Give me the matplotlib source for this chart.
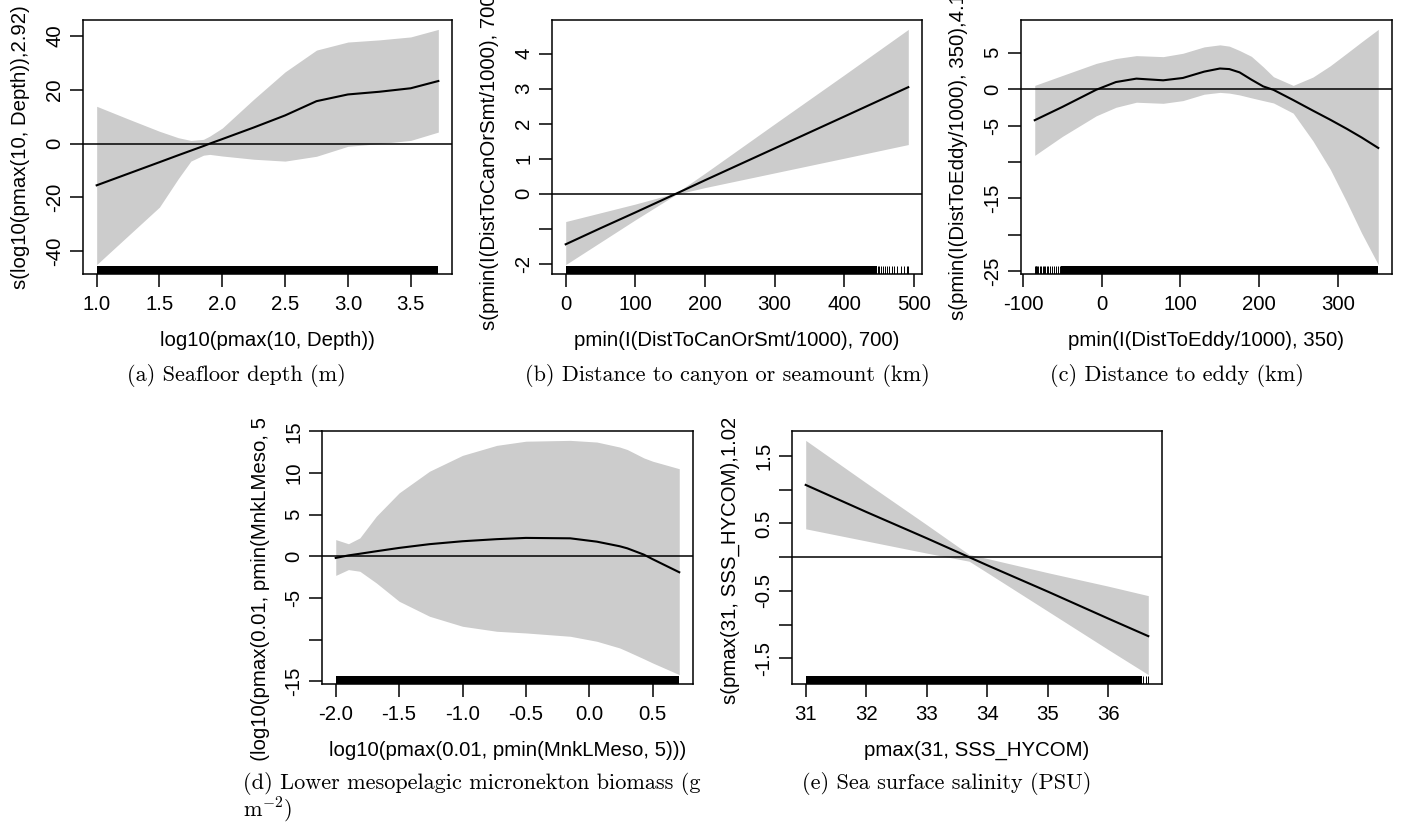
import matplotlib.pyplot as plt
from matplotlib.transforms import Bbox, TransformedBbox

W, H = 1402, 823

# (a) Profundidade do fundo
depth_x = [1.0, 1.25, 1.5, 1.65, 1.75, 1.85, 1.9, 2.0, 2.25, 2.5, 2.75, 3.0, 3.25, 3.5, 3.72]
depth_fit = [-15.5, -11.2, -6.9, -4.3, -2.6, -0.9, 0.0, 1.7, 6.0, 10.5, 15.8, 18.3, 19.3, 20.6, 23.3]
depth_upper = [13.9, 9.2, 4.6, 2.2, 1.2, 1.6, 2.8, 5.8, 16.5, 26.7, 34.8, 37.8, 38.6, 39.7, 42.5]
depth_lower = [-45.0, -34.3, -23.6, -13.0, -6.5, -4.3, -4.0, -4.6, -5.8, -6.5, -4.7, -1.0, 0.0, 1.2, 4.3]
depth_rug_dense = (1.0, 3.72)
depth_rug_ticks = []

# (b) Distancia a canion ou monte submarino
canyon_x = [0, 50, 100, 159, 200, 300, 400, 492]
canyon_fit = [-1.45, -0.99, -0.54, 0.0, 0.38, 1.29, 2.20, 3.04]
canyon_upper = [-0.80, -0.55, -0.30, 0.02, 0.58, 1.99, 3.39, 4.69]
canyon_lower = [-2.03, -1.39, -0.75, -0.02, 0.17, 0.59, 1.01, 1.40]
canyon_rug_dense = (0, 447)
canyon_rug_ticks = [448.4, 450.5, 453.4, 456.3, 458.4, 461.3, 464.9, 468.5,
                    472.1, 476.4, 481.5, 486.5, 490.1, 492.0]

# (c) Distancia ao vortice
eddy_x = [-85, -50, -7, 18, 44, 78, 103, 130, 150, 162, 175, 190, 205, 218, 243, 268, 290, 311, 330, 351]
eddy_fit = [-4.27, -2.45, -0.09, 0.97, 1.44, 1.21, 1.53, 2.4, 2.83, 2.75, 2.3, 1.3, 0.37, -0.1,
            -1.5, -2.95, -4.2, -5.45, -6.65, -8.08]
eddy_upper = [0.51, 1.87, 3.53, 4.2, 4.6, 4.46, 4.92, 5.8, 6.08, 5.9, 5.3, 4.5, 3.06, 1.7,
              0.51, 1.65, 3.2, 4.92, 6.5, 8.2]
eddy_lower = [-9.1, -6.5, -3.67, -2.5, -1.8, -1.95, -1.58, -0.7, -0.45, -0.55, -0.8, -1.2, -1.58, -1.9,
              -3.3, -7.1, -11.0, -15.5, -19.8, -24.1]
eddy_rug_dense = (-51.2, 350.8)
eddy_rug_ticks = [-85.1, -84.0, -83.0, -82.0, -80.9, -78.8, -76.7, -75.0, -73.3, -71.6,
                  -69.5, -67.8, -65.7, -63.2, -60.6, -57.6, -55.1, -52.5]

# (d) Biomassa de micronecton mesopelagico inferior
meso_x = [-2.0, -1.9, -1.81, -1.68, -1.5, -1.26, -1.0, -0.73, -0.5, -0.15, 0.06, 0.24, 0.3, 0.43, 0.5, 0.71]
meso_fit = [-0.2, 0.1, 0.3, 0.6, 1.0, 1.45, 1.8, 2.05, 2.2, 2.15, 1.75, 1.2, 0.95, 0.2, -0.35, -1.92]
meso_upper = [2.0, 1.5, 2.2, 4.8, 7.6, 10.2, 12.1, 13.3, 13.8, 13.9, 13.7, 13.1, 12.8, 11.8, 11.4, 10.5]
meso_lower = [-2.3, -1.6, -1.8, -3.2, -5.4, -7.2, -8.4, -9.0, -9.2, -9.6, -10.2, -11.0, -11.4,
              -12.3, -12.8, -14.2]
meso_rug_dense = (-2.0, 0.71)
meso_rug_ticks = []

# (e) Salinidade da superficie
sss_x = [31.0, 32.0, 33.0, 33.7, 34.0, 35.0, 36.0, 36.66]
sss_fit = [1.07, 0.67, 0.28, 0.0, -0.12, -0.51, -0.91, -1.17]
sss_upper = [1.73, 1.10, 0.48, 0.04, -0.02, -0.23, -0.43, -0.57]
sss_lower = [0.42, 0.24, 0.06, -0.06, -0.23, -0.80, -1.37, -1.74]
sss_rug_dense = (31.0, 36.55)
sss_rug_ticks = [36.58, 36.62, 36.66]

plt.rcParams['font.family'] = 'Liberation Sans'
plt.rcParams['mathtext.fontset'] = 'cm'

FS = 14.7  # tamanho das fontes dos eixos


def r_range(lo, hi):
    """Limites no estilo do R (4% de folga)"""
    r = hi - lo
    return lo - 0.04 * r, hi + 0.04 * r


def add_panel(fig, box, x, fit, lower, upper, rug_dense, rug_ticks,
              xticks, xticklabels, yticks, yticklabels, xlabel, ylabel, clip=None):
    """Desenha um painel do plot.gam"""
    x0, y0, x1, y1 = box
    ax = fig.add_axes([x0 / W, 1 - y1 / H, (x1 - x0) / W, (y1 - y0) / H])

    ax.fill_between(x, lower, upper, color='#cccccc', lw=0)
    ax.axhline(0, color='black', lw=1.1)
    ax.plot(x, fit, color='black', lw=1.5)

    # rug
    trans = ax.get_xaxis_transform()
    ax.axvspan(rug_dense[0], rug_dense[1], ymin=0, ymax=0.031, color='black', lw=0)
    if rug_ticks:
        ax.vlines(rug_ticks, 0, 0.031, transform=trans, color='black', lw=0.7)

    ax.set_xlim(*r_range(min(x), max(x)))
    ax.set_ylim(*r_range(min(lower), max(upper)))

    ax.set_xticks(xticks, xticklabels)
    ax.set_yticks(yticks, yticklabels, rotation=90, va='center')
    ax.tick_params(length=9.4, width=1.1, labelsize=FS, color='black')
    ax.tick_params(axis='x', pad=6.0)
    ax.tick_params(axis='y', pad=4.0)
    for s in ax.spines.values():
        s.set_linewidth(1.1)

    # rotulos dos eixos
    cx = (x0 + x1) / 2
    cy = (y0 + y1) / 2
    fig.text(cx / W, 1 - (y1 + 66) / H, xlabel, ha='center', va='center', fontsize=FS)
    t = fig.text((x0 - 62) / W, 1 - cy / H, ylabel, rotation=90,
                 ha='center', va='center', fontsize=FS)
    if clip is not None:
        top, bottom = clip
        t.set_clip_box(TransformedBbox(Bbox([[0, 1 - bottom / H], [1, 1 - top / H]]),
                                       fig.transFigure))
        t.set_clip_on(True)
    return ax


fig = plt.figure(figsize=(W / 100, H / 100), dpi=100)

add_panel(fig, (83, 20, 452, 274), depth_x, depth_fit, depth_lower, depth_upper,
          depth_rug_dense, depth_rug_ticks,
          [1.0, 1.5, 2.0, 2.5, 3.0, 3.5], ['1.0', '1.5', '2.0', '2.5', '3.0', '3.5'],
          [-40, -20, 0, 20, 40], ['-40', '-20', '0', '20', '40'],
          'log10(pmax(10, Depth))', 's(log10(pmax(10, Depth)),2.92)')

add_panel(fig, (552, 20, 922, 274), canyon_x, canyon_fit, canyon_lower, canyon_upper,
          canyon_rug_dense, canyon_rug_ticks,
          [0, 100, 200, 300, 400, 500], ['0', '100', '200', '300', '400', '500'],
          [-2, -1, 0, 1, 2, 3, 4], ['-2', '', '0', '1', '2', '3', '4'],
          'pmin(I(DistToCanOrSmt/1000), 700)', 's(pmin(I(DistToCanOrSmt/1000), 700),1)')

add_panel(fig, (1021, 20, 1392, 274), eddy_x, eddy_fit, eddy_lower, eddy_upper,
          eddy_rug_dense, eddy_rug_ticks,
          [-100, 0, 100, 200, 300], ['-100', '0', '100', '200', '300'],
          [-25, -20, -15, -10, -5, 0, 5], ['-25', '', '-15', '', '-5', '0', '5'],
          'pmin(I(DistToEddy/1000), 350)', 's(pmin(I(DistToEddy/1000), 350),4.14)')

add_panel(fig, (322, 431, 693, 684), meso_x, meso_fit, meso_lower, meso_upper,
          meso_rug_dense, meso_rug_ticks,
          [-2.0, -1.5, -1.0, -0.5, 0.0, 0.5], ['-2.0', '-1.5', '-1.0', '-0.5', '0.0', '0.5'],
          [-15, -10, -5, 0, 5, 10, 15], ['-15', '', '-5', '0', '5', '10', '15'],
          'log10(pmax(0.01, pmin(MnkLMeso, 5)))', 's(log10(pmax(0.01, pmin(MnkLMeso, 5))),2.81)',
          clip=(419, 761))

add_panel(fig, (792, 431, 1162, 684), sss_x, sss_fit, sss_lower, sss_upper,
          sss_rug_dense, sss_rug_ticks,
          [31, 32, 33, 34, 35, 36], ['31', '32', '33', '34', '35', '36'],
          [-1.5, -1.0, -0.5, 0.0, 0.5, 1.0, 1.5], ['-1.5', '', '-0.5', '', '0.5', '', '1.5'],
          'pmax(31, SSS_HYCOM)', 's(pmax(31, SSS_HYCOM),1.02)',
          clip=(419, 823))

# Legendas das subfiguras
cap = dict(family='cmr10', fontsize=16, va='baseline')
fig.text(236 / W, 1 - 381 / H, '(a) Seafloor depth (m)', ha='center', **cap)
fig.text(727 / W, 1 - 381 / H, '(b) Distance to canyon or seamount (km)', ha='center', **cap)
fig.text(1177 / W, 1 - 381 / H, '(c) Distance to eddy (km)', ha='center', **cap)
fig.text(243 / W, 1 - 789 / H, '(d) Lower mesopelagic micronekton biomass (g', ha='left', **cap)
fig.text(243 / W, 1 - 816 / H, r'm$^{-2}$)', ha='left', **cap)
fig.text(947 / W, 1 - 789 / H, '(e) Sea surface salinity (PSU)', ha='center', **cap)

fig.savefig('out.png', dpi=100, facecolor='white')
